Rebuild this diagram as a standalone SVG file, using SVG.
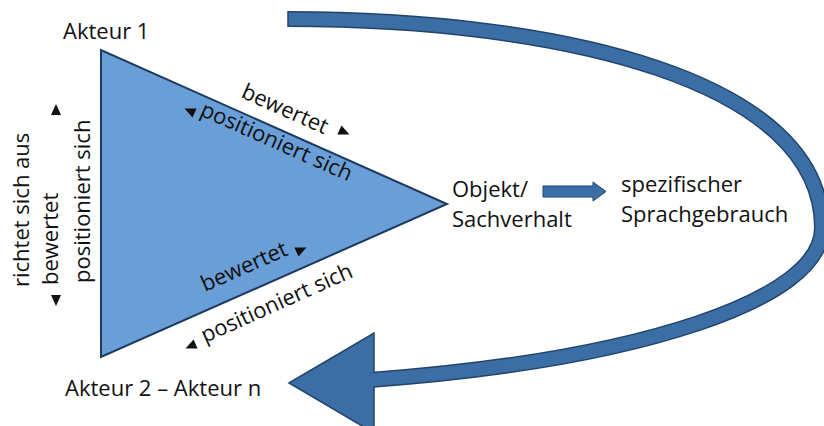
<svg xmlns="http://www.w3.org/2000/svg" width="824" height="426" viewBox="0 0 824 426">
<style>
text{font-family:"Open Sans","Liberation Sans",sans-serif;font-size:22px;fill:#111}
.tri{fill:#111}
.band-o{fill:none;stroke:#22446b;stroke-width:16}
.band-i{fill:none;stroke:#3c6ea6;stroke-width:13}
</style>
<defs>
<path id="tri" class="tri" d="M6,0 L-5,-5 L-5,5 Z"/>
</defs>
<rect width="824" height="426" fill="#fff"/>
<g id="triangle">
<polygon points="101,50 101,357 447,204" fill="#6a9ed7" stroke="#1c3a5e" stroke-width="2"/>
</g>
<g id="connectors">
<path class="band-o" d="M288,19 C560,19 822,80 822,228 C822,300 640,360 370,380"/>
<polygon points="289,383 374,333 374,433" fill="#3c6ea6" stroke="#22446b" stroke-width="1.5"/>
<path class="band-i" d="M288,19 C560,19 822,80 822,228 C822,300 640,360 370,380"/>
<line x1="288" y1="11" x2="288" y2="27" stroke="#22446b" stroke-width="1.5"/>
<polygon points="543,186 593,186 593,182 606,191.5 593,201 593,197 543,197" fill="#3c6ea6" stroke="#22446b" stroke-width="1"/>
<use href="#tri" transform="translate(56,110) rotate(-90)"/>
<use href="#tri" transform="translate(56,300) rotate(90)"/>
<use href="#tri" transform="translate(344,132) rotate(24)"/>
<use href="#tri" transform="translate(190,111) rotate(204)"/>
<use href="#tri" transform="translate(301,250) rotate(-24)"/>
<use href="#tri" transform="translate(191,346) rotate(156)"/>
</g>
<g id="akteur1"><text x="63" y="39">Akteur 1</text></g>
<g id="akteur2"><text x="65" y="396">Akteur 2 – Akteur n</text></g>
<g id="objekt"><text x="452" y="197">Objekt/</text><text x="452" y="227">Sachverhalt</text></g>
<g id="sprachgebrauch"><text x="621" y="192">spezifischer</text><text x="621" y="222">Sprachgebrauch</text></g>
<g id="labels">
<text transform="translate(29,287) rotate(-90)">richtet sich aus</text>
<text transform="translate(58,285) rotate(-90)">bewertet</text>
<text transform="translate(90,283) rotate(-90)">positioniert sich</text>
<text transform="translate(240,97) rotate(24)">bewertet</text>
<text transform="translate(199,115) rotate(24)">positioniert sich</text>
<text transform="translate(205,292) rotate(-24)">bewertet</text>
<text transform="translate(205,343) rotate(-24)">positioniert sich</text>
</g>
</svg>
